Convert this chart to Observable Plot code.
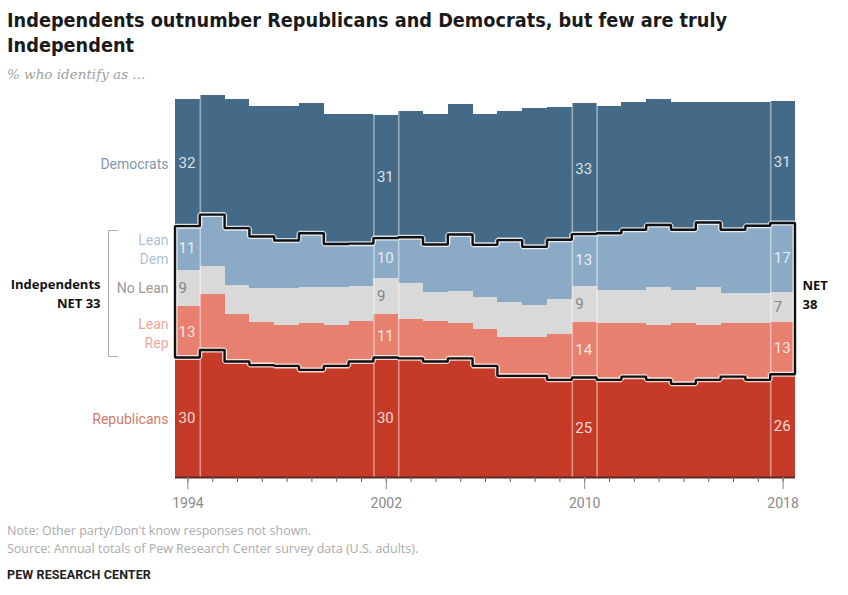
<!DOCTYPE html>
<html>
<head>
<meta charset="utf-8">
<script src="https://cdn.jsdelivr.net/npm/d3@7"></script>
<script src="https://cdn.jsdelivr.net/npm/@observablehq/plot@0.6"></script>
<style>
  html, body { margin: 0; padding: 0; background: #fff; }
  body { width: 848px; height: 595px; position: relative; overflow: hidden; font-family: Roboto, "Liberation Sans", sans-serif; }
  #title { position: absolute; left: 7px; top: 8px; font: bold 19.7px/25px "Liberation Sans Narrow", "DejaVu Sans Condensed", "Roboto", sans-serif; color: #1a1a1a; }
  #subtitle { position: absolute; left: 7px; top: 66px; font: italic 13.5px "DejaVu Serif", "Liberation Serif", serif; color: #a0a0a0; }
  #chart { position: absolute; left: 0; top: 84px; }
  #bracket { position: absolute; left: 108px; top: 230px; width: 9px; height: 125px; border: 1.5px solid #b0b0b0; border-right: none; }
  #notes { position: absolute; left: 7px; top: 522px; font: 12.5px/18px "Open Sans", Roboto, sans-serif; color: #ababab; }
  #pew { position: absolute; left: 7px; top: 567px; font: bold 12.5px Roboto, sans-serif; color: #222; letter-spacing: 0.1px; }
</style>
</head>
<body>
<div id="title">Independents outnumber Republicans and Democrats, but few are truly<br>Independent</div>
<div id="subtitle">% who identify as ...</div>
<div id="bracket"></div>
<div id="chart"></div>
<div id="notes">Note: Other party/Don't know responses not shown.<br>Source: Annual totals of Pew Research Center survey data (U.S. adults).</div>
<div id="pew">PEW RESEARCH CENTER</div>
<script>
// ---- data ----
const years = [1994, 1995, 1996, 1997, 1998, 1999, 2000, 2001, 2002, 2003, 2004, 2005, 2006,
               2007, 2008, 2009, 2010, 2011, 2012, 2013, 2014, 2015, 2016, 2017, 2018];
const labelYears = [1994, 2002, 2010, 2018];
const parties = ["Republicans", "Lean Rep", "No Lean", "Lean Dem", "Democrats"];
const partyLabels = ["Republicans", "Lean\nRep", "No Lean", "Lean\nDem", "Democrats"];
const partyColors = ["#c53b28", "#e8806f", "#d9d9d9", "#8aaac5", "#456a88"];

const republicans = [30, 31.9, 29.0, 28.1, 27.9, 26.9, 27.9, 29.0, 30, 29.8, 29.0, 29.8, 27.9,
                     25.4, 25.4, 24.4, 25, 24.4, 25.2, 24.4, 23.4, 24.4, 25.2, 24.4, 25.8];
const leanRep    = [13, 14.1, 12.0, 10.9, 10.3, 11.9, 10.3, 10.1, 11, 9.8, 10.1, 8.9, 9.3,
                     9.7, 9.7, 11.6, 14, 14.4, 13.6, 13.8, 15.4, 13.8, 13.4, 14.2, 13.2];
const noLean     = [9, 6.9, 7.3, 8.4, 9.2, 9.0, 9.6, 8.8, 9, 9.2, 7.3, 8.0, 7.9,
                     8.9, 8.1, 8.7, 9, 8.2, 8.2, 9.6, 8.2, 9.6, 7.7, 7.7, 7.4];
const leanDem    = [11, 13.0, 14.2, 13.0, 12.0, 13.4, 10.7, 10.7, 10, 11.4, 12.0, 14.2, 13.2,
                     15.5, 14.6, 14.9, 13, 14.2, 15.1, 15.5, 15.1, 16.1, 15.8, 16.8, 17.4];
const democrats  = [32, 30.0, 32.5, 32.7, 33.7, 32.7, 32.6, 32.6, 31, 31.7, 32.8, 32.8, 32.8,
                     32.4, 34.9, 33.2, 33, 32.0, 32.0, 31.7, 32.0, 30.2, 32.0, 31.0, 30.6];

// ---- tables built from the arrays ----
const series = [republicans, leanRep, noLean, leanDem, democrats];
const rows = parties.flatMap((p, k) => years.map((y, i) => ({year: y, party: p, label: partyLabels[k], value: series[k][i]})));
const labelRows = rows.filter(d => labelYears.includes(d.year));
const firstRows = rows.filter(d => d.year === years[0]);
const indep = years.map((y, i) => {
  const lo = republicans[i];
  const net = leanRep[i] + noLean[i] + leanDem[i];
  return {year: y, lo, hi: lo + net, net};
});
// closing point so the last step spans its full year
const indepPath = indep.concat([{...indep[indep.length - 1], year: years[years.length - 1] + 1}]);
const edges = labelYears.flatMap(y => [y, y + 1]).filter(x => x > years[0] && x <= years[years.length - 1]);
const firstInd = indep[0], lastInd = indep[indep.length - 1];

const fontFam = "Roboto, 'Liberation Sans', sans-serif";
const boldFam = "'Open Sans', Roboto, sans-serif";

const chart = Plot.plot({
  width: 848,
  height: 440,
  marginLeft: 175,
  marginRight: 53,
  marginTop: 0,
  marginBottom: 47,
  style: {fontFamily: fontFam, background: "transparent", overflow: "visible"},
  x: {domain: [years[0], years[years.length - 1] + 1], label: null},
  y: {domain: [0, 98.7], axis: null},
  color: {domain: parties, range: partyColors},
  marks: [
    Plot.rectY(rows, {x1: "year", x2: d => d.year + 1, y: "value", fill: "party", shapeRendering: "crispEdges"}),
    Plot.ruleX(edges, {x: d => d, y1: 0, y2: 97, stroke: "white", strokeOpacity: 0.45, strokeWidth: 1.6}),
    // NET outline with halo
    Plot.areaY(indepPath, {x: "year", y1: "lo", y2: "hi", curve: "step-after", fill: "none", stroke: "white", strokeOpacity: 0.8, strokeWidth: 5, strokeLinejoin: "miter"}),
    Plot.areaY(indepPath, {x: "year", y1: "lo", y2: "hi", curve: "step-after", fill: "none", stroke: "#111", strokeWidth: 2.4, strokeLinejoin: "miter"}),
    // value labels
    Plot.text(labelRows, Plot.filter(d => d.party !== "No Lean", Plot.stackY({x: "year", y: "value", text: d => String(Math.round(d.value)), textAnchor: "start", dx: 3, fill: "white", fillOpacity: 0.82, fontSize: 15}))),
    Plot.text(labelRows, Plot.filter(d => d.party === "No Lean", Plot.stackY({x: "year", y: "value", text: d => String(Math.round(d.value)), textAnchor: "start", dx: 3, fill: "#858585", fontSize: 15}))),
    // series labels on the left
    Plot.text(firstRows, Plot.filter(d => d.party !== "No Lean", Plot.stackY({x: "year", y: "value", text: "label", textAnchor: "end", dx: -7, fill: "party", fillOpacity: 0.72, fontSize: 14, lineHeight: 1.36}))),
    Plot.text(firstRows, Plot.filter(d => d.party === "No Lean", Plot.stackY({x: "year", y: "value", text: "label", textAnchor: "end", dx: -7, fill: "#9a9a9a", fontSize: 14}))),
    // NET labels
    Plot.text([firstInd], {x: "year", y: d => (d.lo + d.hi) / 2, text: d => `Independents\nNET ${Math.round(d.net)}`, textAnchor: "end", dx: -75, fontWeight: "bold", fontFamily: boldFam, fontSize: 13, fill: "#111", lineHeight: 1.45}),
    Plot.text([lastInd], {x: d => d.year + 1, y: d => (d.lo + d.hi) / 2, text: d => `NET\n${Math.round(d.net)}`, textAnchor: "start", dx: 7, dy: -6, fontWeight: "bold", fontFamily: boldFam, fontSize: 13, fill: "#111", lineHeight: 1.45}),
    // baseline and axis
    Plot.ruleY([0], {stroke: "#5a2a22", strokeWidth: 2}),
    Plot.axisX(years.map(y => y + 0.5), {tickSize: 5, fill: "none", stroke: "#666", label: null}),
    Plot.axisX(labelYears.map(y => y + 0.5), {tickSize: 12, tickPadding: 9, stroke: "#888", fill: "#8a8a8a", fontSize: 14, label: null, tickFormat: d => String(d - 0.5)})
  ]
});
document.getElementById("chart").appendChild(chart);
</script>
</body>
</html>
